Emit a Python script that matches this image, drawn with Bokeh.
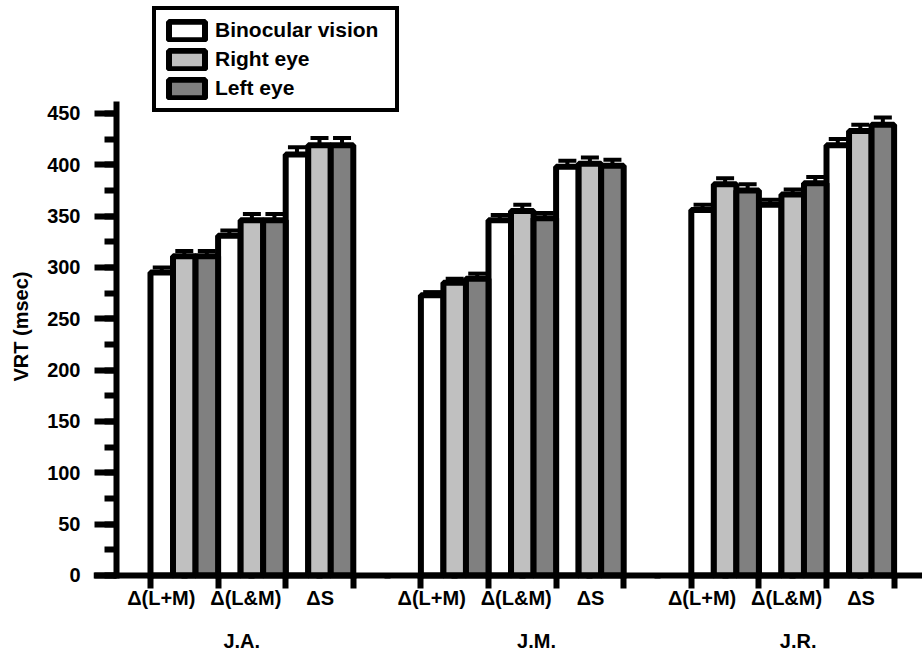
from bokeh.plotting import figure
from bokeh.models import (Range1d, LinearAxis, SingleIntervalTicker,
                          Whisker, TeeHead, ColumnDataSource, Legend, LegendItem,
                          CustomJSTickFormatter)
from bokeh.core.properties import value
from bokeh.embed import file_html
from bokeh.resources import INLINE

# ---------------- data ----------------
subjects = ["J.A.", "J.M.", "J.R."]
stimuli = ["Δ(L+M)", "Δ(L&M)", "ΔS"]
conditions = ["Binocular vision", "Right eye", "Left eye"]

# values ordered: J.A. (L+M, L&M, S), J.M. (...), J.R. (...)
binocular = [295, 331, 410, 273, 346, 398, 356, 361, 419]
right_eye = [311, 346, 419, 285, 355, 401, 381, 371, 433]
left_eye = [311, 346, 419, 289, 348, 399, 375, 382, 439]
binocular_err = [5, 5, 7, 3, 5, 6, 5, 5, 6]
right_eye_err = [5, 6, 7, 4, 6, 6, 6, 5, 6]
left_eye_err = [5, 6, 7, 5, 5, 6, 6, 6, 7]

fills = ["#ffffff", "#c0c0c0", "#808080"]
FONT = "Liberation Sans"

# ---------------- layout helpers ----------------
block_start = [1 + 4 * i for i in range(len(subjects))]
group_start = [b + j for b in block_start for j in range(len(stimuli))]
stim_offsets = [0.16, 0.41, 0.51]
subject_offsets = [1.35, 1.71, 1.58]
stim_pos = [b + j + stim_offsets[j] for b in block_start for j in range(len(stimuli))]
stim_txt = [stimuli[j] for b in block_start for j in range(len(stimuli))]
subj_pos = [block_start[i] + subject_offsets[i] for i in range(len(subjects))]
STIM_Y = -22.4     # label rows below the x axis (data units)
SUBJ_Y = -63.5

p = figure(width=922, height=652,
           x_range=Range1d(0.157, 12.42), y_range=Range1d(-75.0, 560.0),
           output_backend="svg", toolbar_location=None,
           x_axis_type=None, y_axis_type=None,
           min_border_left=93, min_border_right=0,
           min_border_top=0, min_border_bottom=0)
p.outline_line_color = None
p.xgrid.visible = False
p.ygrid.visible = False

series = [binocular, right_eye, left_eye]
errs = [binocular_err, right_eye_err, left_eye_err]
renderers = []
for k in range(3):
    xs = [g + (k + 0.5) / 3 for g in group_start]
    src = ColumnDataSource(dict(x=xs, top=series[k],
                                upper=[v + e for v, e in zip(series[k], errs[k])]))
    w = Whisker(source=src, base="x", lower="top", upper="upper",
                dimension="height", line_width=4, line_color="black",
                lower_head=None,
                upper_head=TeeHead(size=18, line_width=4, line_color="black"))
    p.add_layout(w)
    r = p.vbar(x="x", top="top", bottom=0, width=1 / 3, source=src,
               fill_color=fills[k], line_color="black", line_width=6)
    renderers.append(r)

blank = CustomJSTickFormatter(code="return ''")

# y axis line + ticks, drawn at x = 0.5
yaxis = LinearAxis(ticker=SingleIntervalTicker(interval=50, num_minor_ticks=2),
                   bounds=(0, 462), fixed_location=0.5, formatter=blank)
yaxis.axis_line_width = 6
yaxis.major_tick_line_width = 6
yaxis.minor_tick_line_width = 6
yaxis.major_tick_out = 22
yaxis.major_tick_in = 0
yaxis.minor_tick_out = 12
yaxis.minor_tick_in = 0
p.add_layout(yaxis, "left")

# y tick labels + axis title (in the left panel)
ylab = LinearAxis(ticker=SingleIntervalTicker(interval=50, num_minor_ticks=0),
                  bounds=(0, 462), axis_label="VRT (msec)")
ylab.axis_line_color = None
ylab.major_tick_line_color = None
ylab.minor_tick_line_color = None
ylab.major_tick_out = 0
ylab.major_tick_in = 0
ylab.minor_tick_out = 0
ylab.minor_tick_in = 0
ylab.major_label_standoff = 13
ylab.major_label_text_font = FONT
ylab.major_label_text_font_style = "bold"
ylab.major_label_text_font_size = "20px"
ylab.major_label_text_color = "black"
ylab.axis_label_standoff = 12
ylab.axis_label_text_font = FONT
ylab.axis_label_text_font_style = "bold"
ylab.axis_label_text_font_size = "20px"
ylab.axis_label_text_color = "black"
p.add_layout(ylab, "left")

# main x axis (ticks only), drawn at y = 0
xaxis = LinearAxis(ticker=SingleIntervalTicker(interval=1, num_minor_ticks=2),
                   fixed_location=0, formatter=blank)
xaxis.axis_line_width = 6
xaxis.major_tick_line_width = 6
xaxis.minor_tick_line_width = 6
xaxis.major_tick_out = 13
xaxis.major_tick_in = 0
xaxis.minor_tick_out = 3
xaxis.minor_tick_in = 0
p.add_layout(xaxis, "below")

text_kw = dict(text_font=value(FONT), text_font_style="bold", text_font_size="20px",
               text_align="center", text_baseline="middle", text_color="black")
p.text(x=stim_pos, y=[STIM_Y] * len(stim_pos), text=stim_txt, **text_kw)
p.text(x=subj_pos, y=[SUBJ_Y] * len(subj_pos), text=subjects, **text_kw)

legend = Legend(items=[LegendItem(label=conditions[k], renderers=[renderers[k]])
                       for k in range(3)],
                location=(59, 540), orientation="vertical",
                border_line_width=4, border_line_color="black", border_line_alpha=1.0,
                padding=8, spacing=5, margin=0,
                glyph_width=45, glyph_height=23,
                label_standoff=6, label_height=23, label_width=172,
                label_text_font=FONT, label_text_font_style="bold",
                label_text_font_size="21px", label_text_color="black",
                background_fill_color="white", background_fill_alpha=1)
p.add_layout(legend)

open("out.html", "w").write(file_html(p, INLINE))
